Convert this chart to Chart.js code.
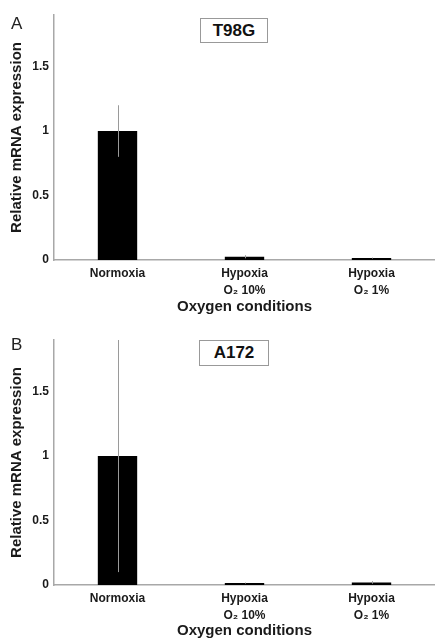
<!DOCTYPE html>
<html>
<head>
<meta charset="utf-8">
<script src="https://cdn.jsdelivr.net/npm/chart.js@4.4.1/dist/chart.umd.min.js"></script>
<style>
  html, body { margin: 0; padding: 0; background: #fff; }
  body { width: 435px; height: 640px; position: relative; overflow: hidden; font-family: "Liberation Sans", Arial, sans-serif; }
  .panel { position: absolute; left: 0; width: 435px; height: 320px; }
  .letter { position: absolute; left: 11px; font-size: 17px; line-height: 1; color: #222; }
  .cellbox { position: absolute; border: 1px solid #999; background: #fff; font-weight: bold; font-size: 17px; color: #111;
             display: flex; align-items: center; justify-content: center; box-sizing: border-box; }
</style>
</head>
<body>
<div class="panel" style="top:0"><canvas id="chartA" width="435" height="320"></canvas></div>
<div class="panel" style="top:320px"><canvas id="chartB" width="435" height="320"></canvas></div>
<div class="letter" style="top:15px">A</div>
<div class="letter" style="top:336px">B</div>
<div class="cellbox" style="left:200px;top:18px;width:68px;height:25px">T98G</div>
<div class="cellbox" style="left:199px;top:340px;width:70px;height:26px">A172</div>
<script>
// Data
const conditions = ['Normoxia', ['Hypoxia', 'O\u2082 10%'], ['Hypoxia', 'O\u2082 1%']];
const t98gValues = [1.0, 0.025, 0.015];
const t98gErrors = [0.2, 0.012, 0.004];
const a172Values = [1.0, 0.015, 0.02];
const a172Errors = [0.9, 0.004, 0.01];
const yTicks = [0, 0.5, 1, 1.5];
const yMax = 1.9;

// Draws the vertical error lines (no caps) over the bars
const errorBarPlugin = {
    id: 'errorBars',
    afterDatasetsDraw(chart, args, opts) {
        const ctx = chart.ctx;
        const yScale = chart.scales.y;
        const meta = chart.getDatasetMeta(0);
        const values = chart.data.datasets[0].data;
        ctx.save();
        ctx.strokeStyle = '#9a9a9a';
        ctx.lineWidth = 1;
        meta.data.forEach((bar, i) => {
            const err = opts.errors[i];
            const x = Math.round(bar.x) + 0.5;
            const top = yScale.getPixelForValue(values[i] + err);
            const bottom = yScale.getPixelForValue(Math.max(values[i] - err, 0));
            ctx.beginPath();
            ctx.moveTo(x, top);
            ctx.lineTo(x, bottom);
            ctx.stroke();
        });
        ctx.restore();
    }
};

const makeChart = (canvasId, values, errors, topPad, xHeight, titleBottom) => {
    const ctx = document.getElementById(canvasId).getContext('2d');
    return new Chart(ctx, {
        type: 'bar',
        data: {
            labels: conditions,
            datasets: [{
                data: values,
                backgroundColor: '#000',
                borderWidth: 0,
                barPercentage: 0.31,
                categoryPercentage: 1
            }]
        },
        plugins: [errorBarPlugin],
        options: {
            responsive: false,
            animation: false,
            devicePixelRatio: 1,
            layout: { padding: { top: topPad, right: 0, left: 0, bottom: 0 } },
            plugins: {
                legend: { display: false },
                tooltip: { enabled: false },
                errorBars: { errors: errors }
            },
            scales: {
                x: {
                    grid: { display: false, drawTicks: false },
                    border: { display: true, color: '#a8a8a8', width: 1.5 },
                    ticks: {
                        color: '#1a1a1a',
                        padding: 6,
                        maxRotation: 0,
                        autoSkip: false,
                        font: { family: 'Liberation Sans', size: 12, weight: 'bold', lineHeight: 1.35 }
                    },
                    title: {
                        display: true,
                        text: 'Oxygen conditions',
                        color: '#1a1a1a',
                        padding: { top: 0, bottom: titleBottom },
                        font: { family: 'Liberation Sans', size: 15, weight: 'bold' }
                    },
                    afterFit: (scale) => { scale.height = xHeight; }
                },
                y: {
                    min: 0,
                    max: yMax,
                    grid: { display: false, drawTicks: false },
                    border: { display: true, color: '#a8a8a8', width: 1.5 },
                    afterBuildTicks: (scale) => { scale.ticks = yTicks.map(v => ({ value: v })); },
                    ticks: {
                        color: '#1a1a1a',
                        padding: 5,
                        callback: (v) => String(v),
                        font: { family: 'Liberation Sans', size: 12, weight: 'bold' }
                    },
                    title: {
                        display: true,
                        text: 'Relative mRNA expression',
                        color: '#1a1a1a',
                        padding: { top: 8, bottom: 0 },
                        font: { family: 'Liberation Sans', size: 15, weight: 'bold' }
                    },
                    afterFit: (scale) => { scale.width = 54; }
                }
            }
        }
    });
};

makeChart('chartA', t98gValues, t98gErrors, 15, 60, 4);
makeChart('chartB', a172Values, a172Errors, 20, 55, 0);
</script>
</body>
</html>
